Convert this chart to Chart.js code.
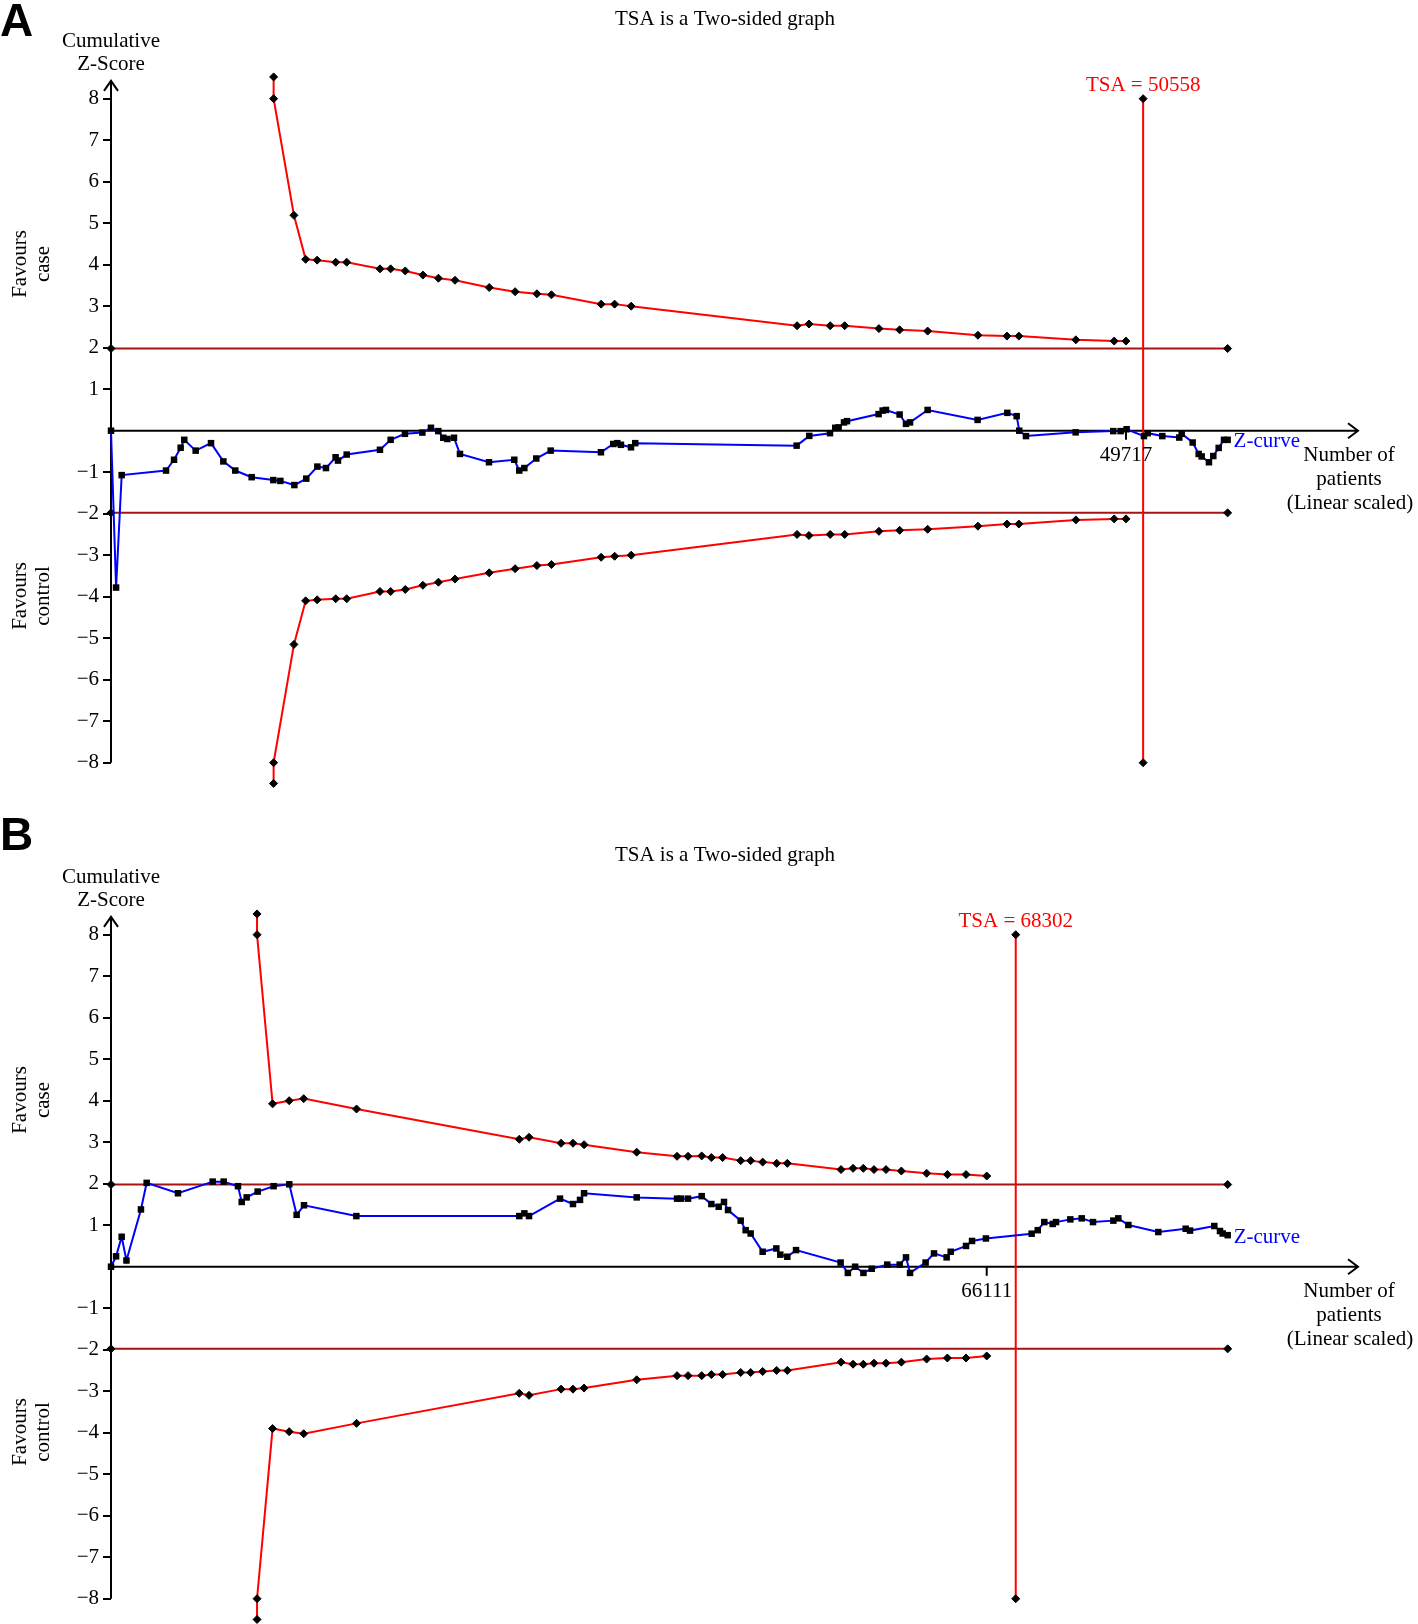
<!DOCTYPE html>
<html>
<head>
<meta charset="utf-8">
<script src="https://cdn.jsdelivr.net/npm/chart.js@4.4.1/dist/chart.umd.min.js"></script>
<style>
  html, body { margin: 0; padding: 0; background: #fff; overflow: hidden; }
  .panel { position: absolute; left: 0; width: 1418px; height: 836px; }
</style>
</head>
<body>
<div class="panel" style="top:0"><canvas id="chartA" width="1418" height="836"></canvas></div>
<div class="panel" style="top:812px"><canvas id="chartB" width="1418" height="836"></canvas></div>
<script>
// y axis ticks (cumulative Z-score)
var yTicks = [-8, -7, -6, -5, -4, -3, -2, -1, 0, 1, 2, 3, 4, 5, 6, 7, 8];

// Panel A: [patients, z]
var zCurveA = [[0, 0], [249, -3.78], [523, -1.07], [2696, -0.96], [3087, -0.70], [3412, -0.41], [3589, -0.22],
  [4148, -0.48], [4899, -0.30], [5503, -0.74], [6087, -0.96], [6890, -1.12], [7951, -1.19], [8296, -1.21],
  [8981, -1.31], [9565, -1.155], [10108, -0.865], [10530, -0.90], [11002, -0.64], [11119, -0.72], [11545, -0.575],
  [13175, -0.46], [13698, -0.22], [14398, -0.075], [15251, -0.045], [15673, 0.07], [16033, -0.01], [16277, -0.17],
  [16475, -0.20], [16800, -0.17], [17094, -0.56], [18516, -0.76], [19755, -0.70], [19998, -0.96], [20247, -0.90],
  [20831, -0.67], [21537, -0.48], [23999, -0.52], [24603, -0.32], [24801, -0.30], [24979, -0.34], [25471, -0.40],
  [25680, -0.30], [33584, -0.36], [34204, -0.125], [35219, -0.06], [35478, 0.07], [35641, 0.08], [35905, 0.20],
  [36052, 0.23], [37600, 0.40], [37798, 0.485], [37961, 0.50], [38631, 0.39], [38941, 0.165], [39139, 0.20],
  [40002, 0.50], [42449, 0.26], [43906, 0.43], [44363, 0.35], [44490, 0.0], [44820, -0.13], [47252, -0.04],
  [49095, -0.01], [49455, -0.01], [49750, 0.035], [50598, -0.13], [50781, -0.06], [51497, -0.13], [52329, -0.165],
  [52446, -0.075], [52985, -0.285], [53279, -0.56], [53426, -0.62], [53782, -0.76], [53995, -0.61], [54259, -0.415],
  [54518, -0.22], [54696, -0.22]];

// [patients, upper boundary, lower boundary]
var boundaryA = [[7966, 8.525, -8.5], [7966, 8.0, -8.0], [8961, 5.19, -5.15], [9535, 4.13, -4.1], [10098, 4.11, -4.075],
  [11007, 4.06, -4.05], [11545, 4.06, -4.05], [13175, 3.90, -3.875], [13698, 3.90, -3.875], [14414, 3.85, -3.825],
  [15277, 3.75, -3.725], [16038, 3.675, -3.65], [16851, 3.625, -3.575], [18526, 3.45, -3.425], [19795, 3.35, -3.325],
  [20862, 3.30, -3.25], [21573, 3.275, -3.225], [24009, 3.05, -3.05], [24669, 3.05, -3.025], [25481, 3.00, -3.0],
  [33605, 2.53, -2.5], [34189, 2.57, -2.525], [35230, 2.53, -2.5], [35940, 2.53, -2.5], [37616, 2.46, -2.425],
  [38631, 2.43, -2.4], [40002, 2.40, -2.375], [42465, 2.30, -2.3], [43886, 2.28, -2.25], [44470, 2.28, -2.25],
  [47262, 2.19, -2.15], [49141, 2.16, -2.125], [49717, 2.16, -2.125]];

// Panel B
var zCurveB = [[0, 0], [383, 0.25], [806, 0.72], [1166, 0.15], [2261, 1.38], [2692, 2.02], [5055, 1.77], [7676, 2.05],
  [8506, 2.05], [9586, 1.94], [9868, 1.56], [10243, 1.67], [11073, 1.81], [12277, 1.94], [13459, 1.985], [14015, 1.25],
  [14570, 1.48], [18522, 1.22], [30823, 1.22], [31206, 1.285], [31558, 1.22], [33898, 1.64], [34876, 1.51],
  [35408, 1.61], [35713, 1.77], [39688, 1.67], [42732, 1.64], [43030, 1.64], [43562, 1.64], [44595, 1.70],
  [45322, 1.51], [45878, 1.445], [46277, 1.56], [46582, 1.365], [47537, 1.11], [47912, 0.88], [48288, 0.80],
  [49196, 0.36], [50229, 0.44], [50527, 0.29], [51058, 0.24], [51716, 0.40], [55081, 0.10], [55629, -0.15],
  [56176, 0.0], [56802, -0.15], [57428, -0.05], [58602, 0.05], [59541, 0.05], [60018, 0.225], [60323, -0.15],
  [61497, 0.10], [62131, 0.32], [63086, 0.225], [63391, 0.36], [64549, 0.50], [65003, 0.62], [66051, 0.68],
  [69503, 0.795], [69964, 0.88], [70457, 1.075], [71091, 1.03], [71342, 1.075], [72422, 1.14], [73282, 1.165],
  [74135, 1.075], [75669, 1.11], [76045, 1.165], [76804, 1.005], [79066, 0.835], [81131, 0.915], [81460, 0.87],
  [83291, 0.98], [83722, 0.86], [83925, 0.80], [84301, 0.76]];

var boundaryB = [[11025, 8.5, -8.5], [11025, 8.0, -8.0], [12199, 3.925, -3.9], [13451, 4.0, -3.975], [14547, 4.05, -4.025],
  [18537, 3.8, -3.775], [30822, 3.07, -3.05], [31558, 3.12, -3.1], [33976, 2.975, -2.95], [34876, 2.975, -2.95],
  [35713, 2.94, -2.925], [39688, 2.76, -2.725], [42732, 2.66, -2.625], [43562, 2.66, -2.625], [44595, 2.67, -2.625],
  [45322, 2.63, -2.6], [46175, 2.63, -2.6], [47537, 2.555, -2.55], [48288, 2.555, -2.55], [49196, 2.52, -2.525],
  [50252, 2.49, -2.5], [51058, 2.49, -2.5], [55112, 2.34, -2.3], [56019, 2.37, -2.35], [56794, 2.37, -2.35],
  [57600, 2.34, -2.325], [58508, 2.34, -2.325], [59666, 2.305, -2.3], [61575, 2.25, -2.225], [63140, 2.22, -2.2],
  [64549, 2.22, -2.2], [66111, 2.185, -2.15]];

var tsaA = 50558, tsaB = 68302;
var xMaxA = 61083, xMaxB = 94140;

var SERIF = "'Liberation Serif', 'Times New Roman', serif";
var CANVAS_H = 836;

function makePanel(canvasId, p) {
  var dy = p.dy;
  var last = p.z[p.z.length - 1];
  var infoSize = p.bound[p.bound.length - 1][0];

  var pairs = function (arr, k) { return arr.map(function (r) { return { x: r[0], y: r[k] }; }); };
  var diamond = { pointStyle: 'rectRot', pointRadius: 4, pointHoverRadius: 4, pointBackgroundColor: '#000', pointBorderColor: '#000', pointBorderWidth: 1 };

  function line(data, color, extra) {
    return Object.assign({ data: data, showLine: true, borderColor: color, borderWidth: 2, tension: 0, fill: false, clip: false }, diamond, extra || {});
  }

  var tsaPlugin = {
    id: 'tsaDecor',
    beforeDatasetsDraw: function (chart) {
      var ctx = chart.ctx, x = chart.scales.x, y = chart.scales.y;
      var x0 = x.getPixelForValue(0), y0 = y.getPixelForValue(0);
      var xEnd = x.right, yTop = y.getPixelForValue(8.43), yBot = y.getPixelForValue(-8);
      var xi = x.getPixelForValue(infoSize);
      ctx.save();
      ctx.strokeStyle = '#000';
      ctx.lineWidth = 2;
      ctx.beginPath();
      ctx.moveTo(x0, yBot); ctx.lineTo(x0, yTop);
      ctx.moveTo(x0 - 7, yTop + 10); ctx.lineTo(x0, yTop); ctx.lineTo(x0 + 7, yTop + 10);
      ctx.moveTo(x0, y0); ctx.lineTo(xEnd, y0);
      ctx.moveTo(xEnd - 10, y0 - 7.5); ctx.lineTo(xEnd, y0); ctx.lineTo(xEnd - 10, y0 + 7.5);
      ctx.moveTo(xi, y0); ctx.lineTo(xi, y0 + 9);
      ctx.stroke();
      ctx.restore();
    },
    afterDraw: function (chart) {
      var ctx = chart.ctx, x = chart.scales.x, y = chart.scales.y;
      var y0 = y.getPixelForValue(0);
      ctx.save();
      // panel letter
      ctx.fillStyle = '#000';
      ctx.font = "bold 46px 'Liberation Sans', Arial, sans-serif";
      ctx.textAlign = 'left';
      ctx.textBaseline = 'alphabetic';
      ctx.fillText(p.letter, 0, p.letterY);

      ctx.font = '21px ' + SERIF;
      ctx.textAlign = 'center';
      ctx.textBaseline = 'middle';
      ctx.fillText('TSA is a Two-sided graph', 725, 19.5 + dy);
      ctx.fillText('Cumulative', 111, 41.5 + dy);
      ctx.fillText('Z-Score', 111, 64 + dy);
      ctx.fillText(String(infoSize), x.getPixelForValue(infoSize), y0 + 25);
      ctx.fillText('Number of', 1349, y0 + 25);
      ctx.fillText('patients', 1349, y0 + 49);
      ctx.fillText('(Linear scaled)', 1350, y0 + 73);

      var side = function (a, b, cy) {
        ctx.save();
        ctx.translate(32, cy + dy);
        ctx.rotate(-Math.PI / 2);
        ctx.fillText(a, 0, -11.4);
        ctx.fillText(b, 0, 11.4);
        ctx.restore();
      };
      side('Favours', 'case', 264);
      side('Favours', 'control', 596);

      ctx.fillStyle = '#ff0000';
      ctx.fillText('TSA = ' + p.tsa, x.getPixelForValue(p.tsa), y.getPixelForValue(8) - 13);

      ctx.fillStyle = '#0000ff';
      ctx.textAlign = 'left';
      ctx.fillText('Z-curve', x.getPixelForValue(last[0]) + 6, y.getPixelForValue(last[1]) + 2);
      ctx.restore();
    }
  };

  return new Chart(document.getElementById(canvasId), {
    type: 'scatter',
    data: {
      datasets: [
        Object.assign({ data: pairs(p.z, 1), showLine: true, borderColor: '#0000ff', borderWidth: 2, tension: 0, clip: false,
          pointStyle: 'rect', pointRadius: 4.6, pointHoverRadius: 4.6, pointBackgroundColor: '#000', pointBorderColor: '#000', pointBorderWidth: 0 }),
        line([{ x: p.tsa, y: 8 }, { x: p.tsa, y: -8 }], '#ff0000'),
        line(pairs(p.bound, 1), '#ff0000'),
        line(pairs(p.bound, 2), '#ff0000'),
        line([{ x: 0, y: 1.98 }, { x: last[0], y: 1.98 }], '#a41414'),
        line([{ x: 0, y: -1.98 }, { x: last[0], y: -1.98 }], '#a41414')
      ]
    },
    options: {
      responsive: false,
      animation: false,
      events: [],
      layout: { padding: { top: 73.8 + dy, bottom: CANVAS_H - (787.6 + dy), left: 0, right: 60 } },
      plugins: { legend: { display: false }, tooltip: { enabled: false } },
      scales: {
        x: { type: 'linear', min: 0, max: p.xMax, display: false },
        y: {
          type: 'linear', min: -8.6, max: 8.6,
          afterBuildTicks: function (s) { s.ticks = yTicks.map(function (v) { return { value: v }; }); },
          afterFit: function (s) { s.width = 111; },
          border: { display: false },
          grid: {
            drawOnChartArea: false, drawTicks: true, tickLength: 8, lineWidth: 2,
            color: function (c) { return c.tick && c.tick.value === 0 ? 'rgba(0,0,0,0)' : '#000'; }
          },
          ticks: {
            color: '#000', padding: 4, font: { family: SERIF, size: 21 },
            callback: function (v) { return v === 0 ? '' : (v < 0 ? '\u2212' + Math.abs(v) : String(v)); }
          }
        }
      }
    },
    plugins: [tsaPlugin]
  });
}

makePanel('chartA', { z: zCurveA, bound: boundaryA, tsa: tsaA, xMax: xMaxA, dy: 0, letter: 'A', letterY: 36 });
makePanel('chartB', { z: zCurveB, bound: boundaryB, tsa: tsaB, xMax: xMaxB, dy: 24, letter: 'B', letterY: 38 });
</script>
</body>
</html>
